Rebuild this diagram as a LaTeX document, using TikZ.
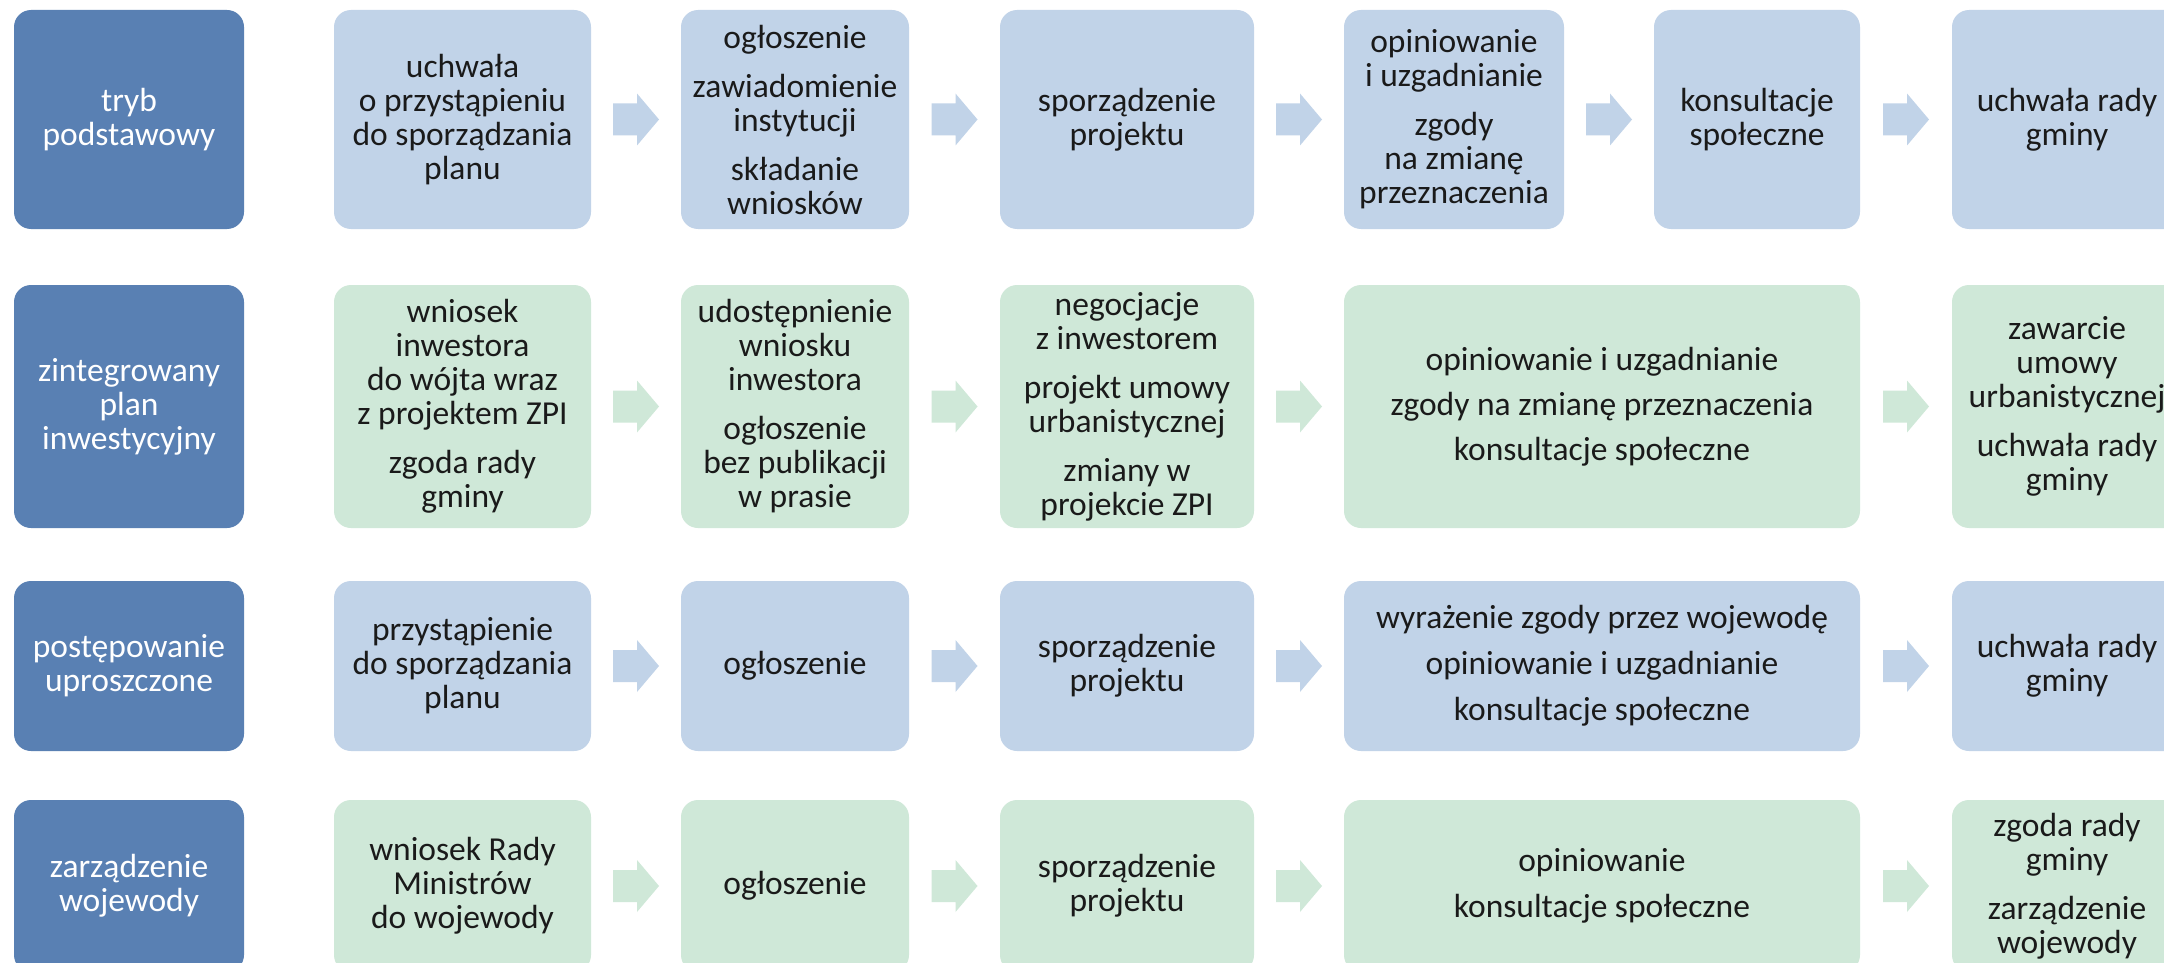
\documentclass[tikz,border=0pt]{standalone}
\usepackage{fontspec}
\setmainfont{Carlito}
\usetikzlibrary{calc}
\definecolor{hdrblue}{HTML}{5980B3}
\definecolor{ltblue}{HTML}{C1D3E8}
\definecolor{ltgreen}{HTML}{CFE8D8}
\definecolor{txt}{HTML}{1A1A1A}
\newcommand\blockarrow[3]{%
  \path ($(#1.east)!0.5!(#2.west)$) coordinate (#1-#2-mid);
  \fill[#3] ([shift={(-23,-16)}]#1-#2-mid) -- ++(24,0) -- ++(0,-10) -- ++(22,26)
    -- ++(-22,26) -- ++(0,-10) -- ++(-24,0) -- cycle;}
\begin{document}
\begin{tikzpicture}[x=1pt,y=-1pt,
  base/.style={rounded corners=17pt, inner sep=0pt, align=center,
    font=\fontsize{33.5}{34}\selectfont, text=txt},
  hdr/.style={base, fill=hdrblue, text=white, minimum width=230pt},
  bbox/.style={base, fill=ltblue},
  gbox/.style={base, fill=ltgreen},
  r1/.style={minimum height=219pt},
  r2/.style={minimum height=243pt},
  r3/.style={minimum height=170pt},
  r4/.style={minimum height=172pt},
  c1/.style={minimum width=257pt},
  c2/.style={minimum width=228pt},
  c3/.style={minimum width=254pt},
  c4/.style={minimum width=220pt},
  c5/.style={minimum width=206pt},
  c6/.style={minimum width=230pt},
  cw/.style={minimum width=516pt}]
\useasboundingbox (0,0) rectangle (2164,963);
\clip (0,0) rectangle (2164,963);
\fill[white] (0,0) rectangle (2164,963);

% Row 1
\node[hdr,r1] (h1) at (129,119.5) {tryb\\podstawowy};
\node[bbox,r1,c1] (a1) at (462.5,119.5) {uchwała\\o przystąpieniu\\do sporządzania\\planu};
\node[bbox,r1,c2] (a2) at (795,119.5) {ogłoszenie\\[15pt]zawiadomienie\\instytucji\\[15pt]składanie\\wniosków};
\node[bbox,r1,c3] (a3) at (1127,119.5) {sporządzenie\\projektu};
\node[bbox,r1,c4] (a4) at (1454,119.5) {opiniowanie\\i uzgadnianie\\[15pt]zgody\\na zmianę\\przeznaczenia};
\node[bbox,r1,c5] (a5) at (1757,119.5) {konsultacje\\społeczne};
\node[bbox,r1,c6] (a6) at (2067,119.5) {uchwała rady\\gminy};
\blockarrow{a1}{a2}{ltblue}
\blockarrow{a2}{a3}{ltblue}
\blockarrow{a3}{a4}{ltblue}
\blockarrow{a4}{a5}{ltblue}
\blockarrow{a5}{a6}{ltblue}

% Row 2
\node[hdr,r2] (h2) at (129,406.5) {zintegrowany\\plan\\inwestycyjny};
\node[gbox,r2,c1] (b1) at (462.5,406.5) {wniosek\\inwestora\\do wójta wraz\\z projektem ZPI\\[15pt]zgoda rady\\gminy};
\node[gbox,r2,c2] (b2) at (795,406.5) {udostępnienie\\wniosku\\inwestora\\[15pt]ogłoszenie\\bez publikacji\\w prasie};
\node[gbox,r2,c3] (b3) at (1127,406.5) {negocjacje\\z inwestorem\\[15pt]projekt umowy\\urbanistycznej\\[15pt]zmiany w\\projekcie ZPI};
\node[gbox,r2,cw] (b4) at (1602,406.5) {opiniowanie i uzgadnianie\\[11pt]zgody na zmianę przeznaczenia\\[11pt]konsultacje społeczne};
\node[gbox,r2,c6] (b6) at (2067,406.5) {zawarcie\\umowy\\urbanistycznej\\[15pt]uchwała rady\\gminy};
\blockarrow{b1}{b2}{ltgreen}
\blockarrow{b2}{b3}{ltgreen}
\blockarrow{b3}{b4}{ltgreen}
\blockarrow{b4}{b6}{ltgreen}

% Row 3
\node[hdr,r3] (h3) at (129,666) {postępowanie\\uproszczone};
\node[bbox,r3,c1] (d1) at (462.5,666) {przystąpienie\\do sporządzania\\planu};
\node[bbox,r3,c2] (d2) at (795,666) {ogłoszenie};
\node[bbox,r3,c3] (d3) at (1127,666) {sporządzenie\\projektu};
\node[bbox,r3,cw] (d4) at (1602,666) {wyrażenie zgody przez wojewodę\\[12pt]opiniowanie i uzgadnianie\\[12pt]konsultacje społeczne};
\node[bbox,r3,c6] (d6) at (2067,666) {uchwała rady\\gminy};
\blockarrow{d1}{d2}{ltblue}
\blockarrow{d2}{d3}{ltblue}
\blockarrow{d3}{d4}{ltblue}
\blockarrow{d4}{d6}{ltblue}

% Row 4
\node[hdr,r4] (h4) at (129,886) {zarządzenie\\wojewody};
\node[gbox,r4,c1] (e1) at (462.5,886) {wniosek Rady\\Ministrów\\do wojewody};
\node[gbox,r4,c2] (e2) at (795,886) {ogłoszenie};
\node[gbox,r4,c3] (e3) at (1127,886) {sporządzenie\\projektu};
\node[gbox,r4,cw] (e4) at (1602,886) {opiniowanie\\[12pt]konsultacje społeczne};
\node[gbox,r4,c6] (e6) at (2067,886) {zgoda rady\\gminy\\[15pt]zarządzenie\\wojewody};
\blockarrow{e1}{e2}{ltgreen}
\blockarrow{e2}{e3}{ltgreen}
\blockarrow{e3}{e4}{ltgreen}
\blockarrow{e4}{e6}{ltgreen}
\end{tikzpicture}
\end{document}
